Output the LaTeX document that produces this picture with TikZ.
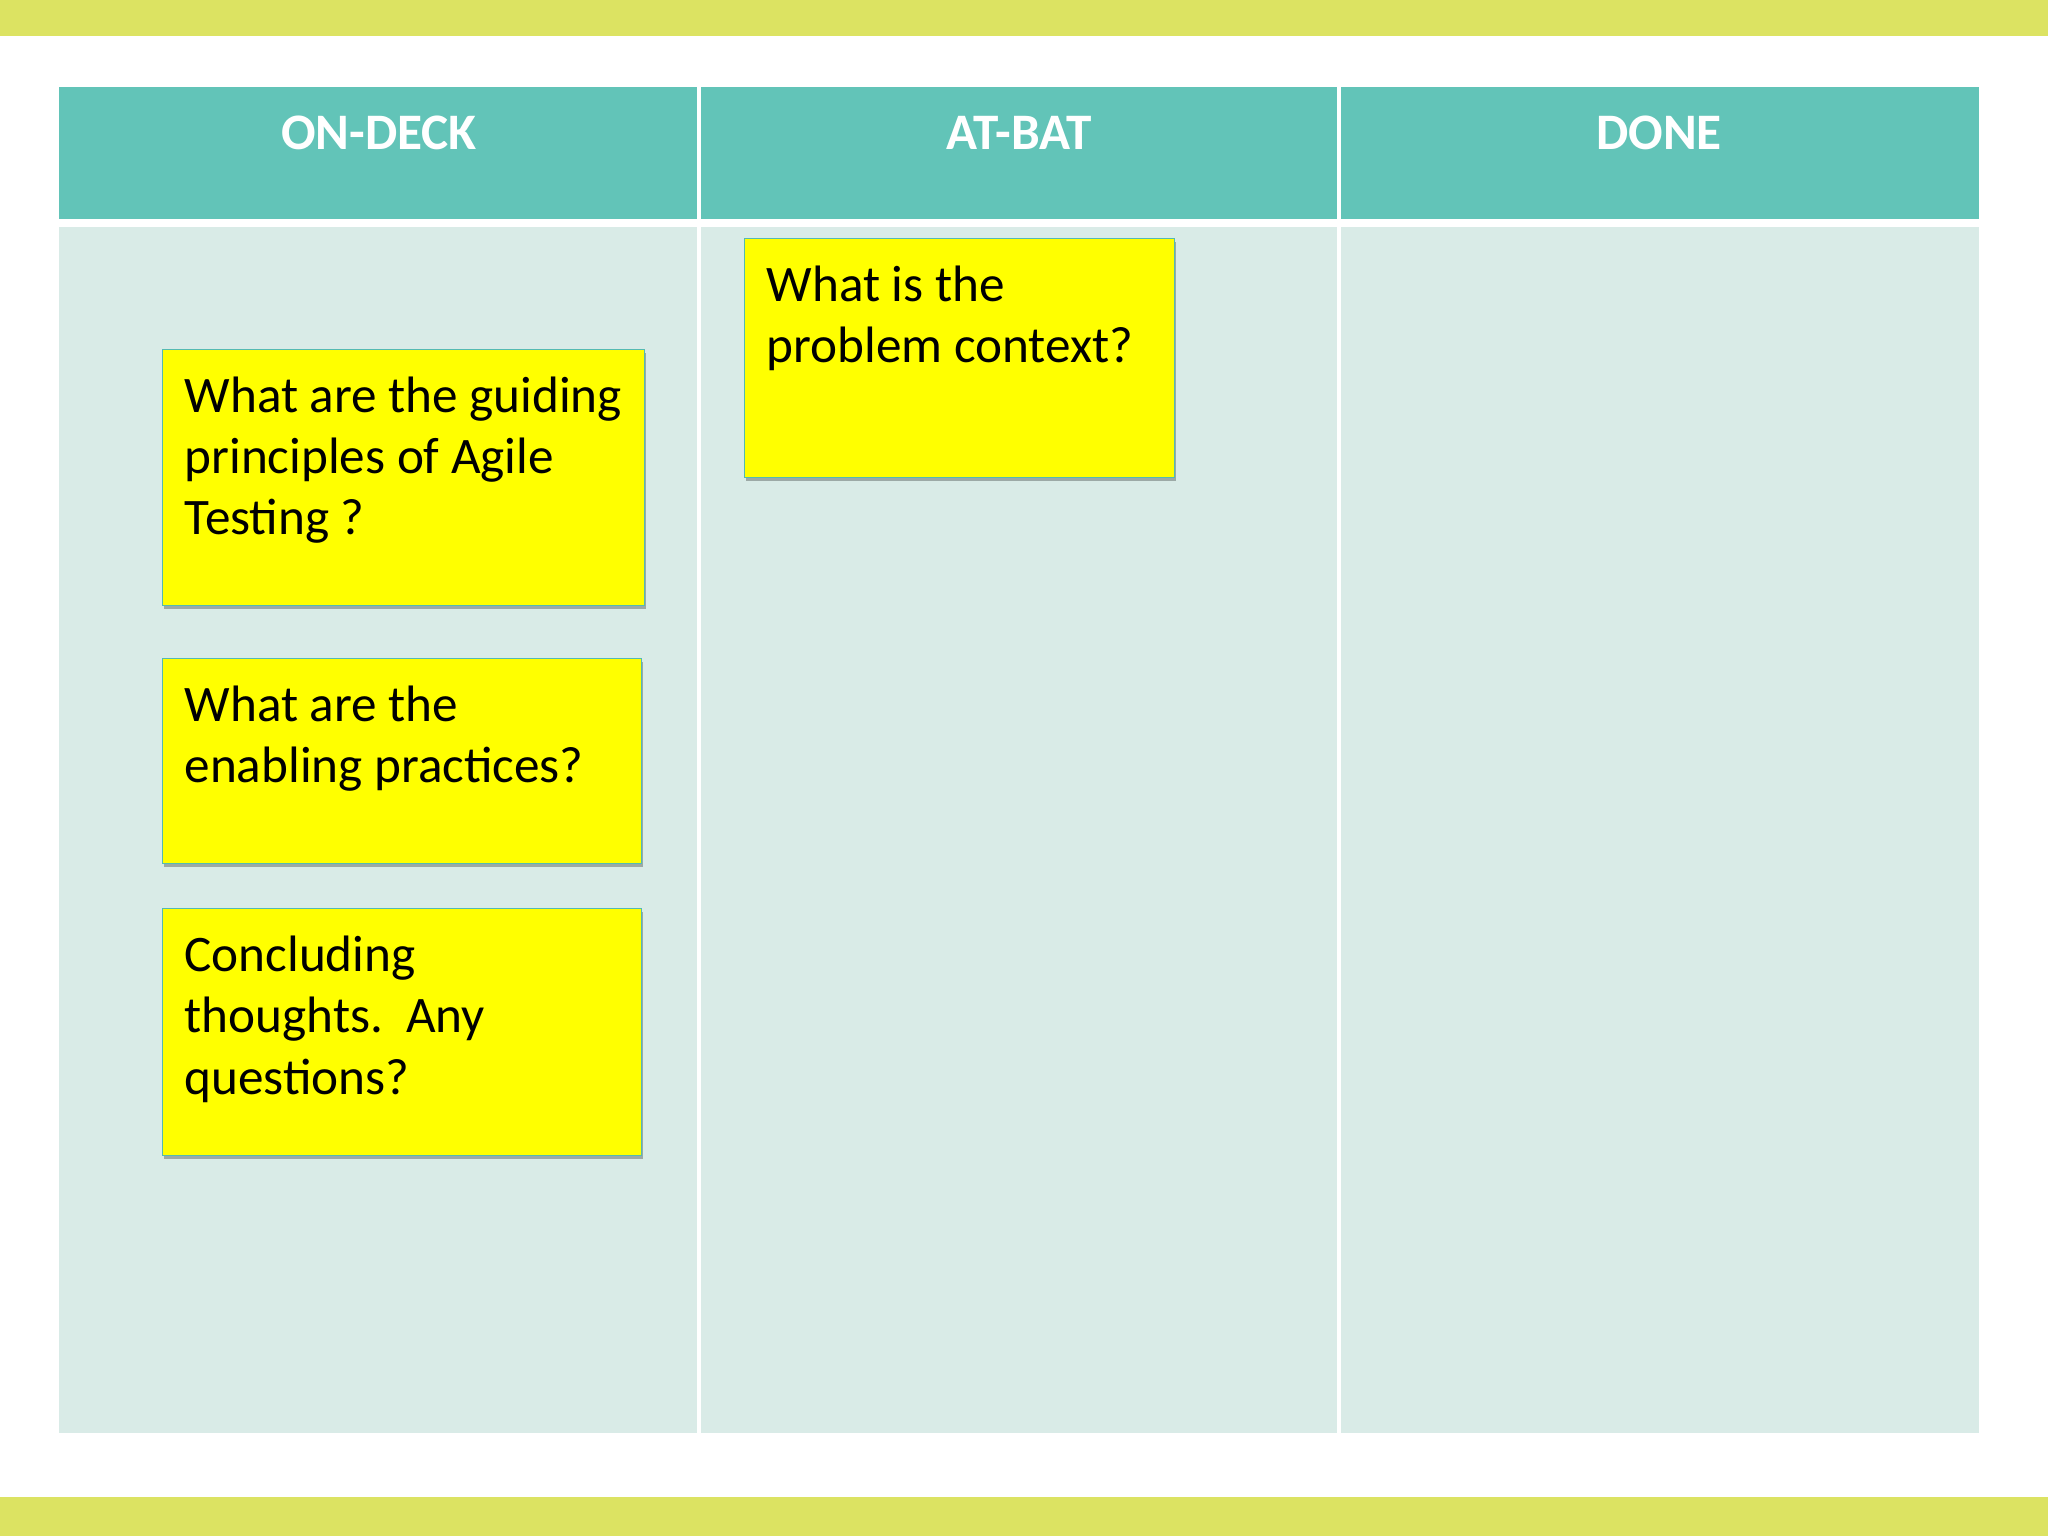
\documentclass[tikz,border=0pt]{standalone}
\usepackage{fontspec}
\setmainfont{Carlito}
\usetikzlibrary{calc,shadows}
\definecolor{barcol}{RGB}{220,227,98}
\definecolor{headcol}{RGB}{98,196,184}
\definecolor{bodycol}{RGB}{217,235,231}
\definecolor{notecol}{RGB}{255,255,0}
\definecolor{noteline}{RGB}{84,186,178}
\begin{document}
\begin{tikzpicture}[x=0.3515625pt, y=-0.3515625pt,
  bar/.style={fill=barcol, draw=none},
  headfill/.style={fill=headcol, draw=none},
  bodyfill/.style={fill=bodycol, draw=none},
  divider/.style={draw=white, line width=1.1pt},
  headtext/.style={text=white, font=\fontsize{18}{21.6}\selectfont\bfseries, anchor=base, inner sep=0},
  note/.style={draw=noteline, line width=0.5pt, fill=notecol, anchor=north west, inner sep=0,
     drop shadow={shadow xshift=0.4pt, shadow yshift=-1.3pt, fill=black, opacity=0.28}},
  notetext/.style={anchor=north west, inner sep=0, align=left, text=black,
     font=\fontsize{18}{21.6}\selectfont}
]
\useasboundingbox (0,0) rectangle (2048,1536);
\fill[white] (0,0) rectangle (2048,1536);
% bars
\path[bar] (0,0) rectangle (2048,36);
\path[bar] (0,1497) rectangle (2048,1536);
% table
\path[headfill] (59,87.5) rectangle (1979,219);
\path[bodyfill] (59,227) rectangle (1979,1433);
\draw[divider] (699,87.5) -- (699,1433);
\draw[divider] (1339,87.5) -- (1339,1433);
% headers
\node[headtext] (h1) at (379,150) {ON-DECK};
\node[headtext] (h2) at (1019,150) {AT-BAT};
\node[headtext] (h3) at (1659,150) {DONE};
% notes
\node[note, minimum width=482*0.3515625pt, minimum height=256*0.3515625pt] (nA) at (162,349) {};
\node[note, minimum width=479*0.3515625pt, minimum height=205*0.3515625pt] (nB) at (162,658) {};
\node[note, minimum width=479*0.3515625pt, minimum height=247*0.3515625pt] (nC) at (162,908) {};
\node[note, minimum width=430*0.3515625pt, minimum height=239*0.3515625pt] (nD) at (744,238) {};
% note texts
\node[notetext] (tA) at ($(nA.north west)+(22,27)$) {What are the guiding\\principles of Agile\\Testing ?};
\node[notetext] (tB) at ($(nB.north west)+(22,27)$) {What are the\\enabling practices?};
\node[notetext] (tC) at ($(nC.north west)+(22,27)$) {Concluding\\thoughts.\ \ Any\\questions?};
\node[notetext] (tD) at ($(nD.north west)+(22,27)$) {What is the\\problem context?};
\end{tikzpicture}
\end{document}
